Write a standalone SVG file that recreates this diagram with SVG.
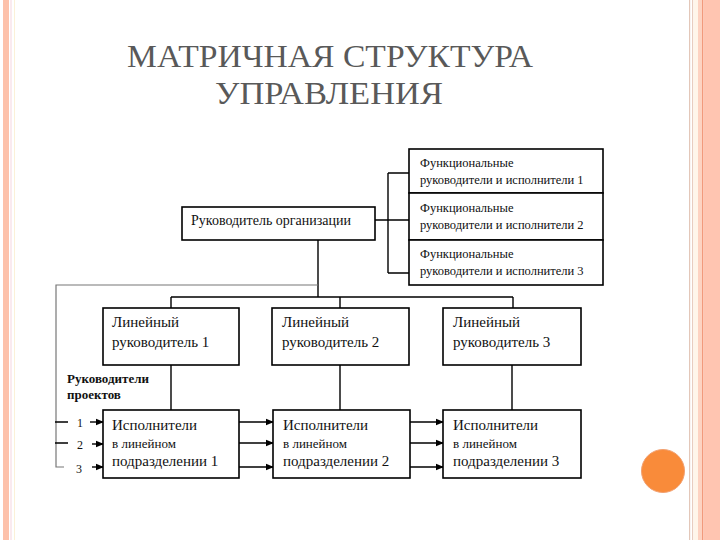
<svg xmlns="http://www.w3.org/2000/svg" width="720" height="540" viewBox="0 0 720 540">
<defs>
<style>
.box{fill:#fff;stroke:#000;stroke-width:1.6}
.ln{fill:none;stroke:#000;stroke-width:1.4}
.ar{fill:none;stroke:#000;stroke-width:1.4;marker-end:url(#ah)}
.gl{fill:none;stroke:#777;stroke-width:1.2}
text{font-family:"Liberation Serif","Times New Roman",serif}
.t{fill:#111}
.f{font-size:12.5px}
.m{font-size:15px}
.s{font-size:13px}
.title{font-size:31px;fill:#595959}
</style>
<marker id="ah" markerWidth="8" markerHeight="8" refX="7" refY="4" orient="auto" markerUnits="userSpaceOnUse">
<path d="M0,0.8 L8,4 L0,7.2 Z" fill="#000"/>
</marker>
</defs>
<rect width="720" height="540" fill="#fff"/>
<g id="frame">
<rect x="3" y="0" width="6" height="540" fill="#FDC1AA"/>
<rect x="10.5" y="0" width="1" height="540" fill="#F6D6E0"/>
<rect x="14" y="0" width="1" height="540" fill="#FBF1D8"/>
<rect x="689" y="0" width="1.2" height="540" fill="#E3C7B9"/>
<rect x="692" y="0" width="1.2" height="540" fill="#E8CDBF"/>
<rect x="693.5" y="0" width="4.5" height="540" fill="#FFF6EA"/>
<rect x="698" y="0" width="4" height="540" fill="#FDD3C2"/>
<rect x="702" y="0" width="1.5" height="540" fill="#F29A7C"/>
<rect x="703.5" y="0" width="16.5" height="540" fill="#FFC5B1"/>
</g>
<g id="title">
<text class="title" x="127" y="67" textLength="406" lengthAdjust="spacingAndGlyphs">МАТРИЧНАЯ СТРУКТУРА</text>
<text class="title" x="215" y="104" textLength="228" lengthAdjust="spacingAndGlyphs">УПРАВЛЕНИЯ</text>
</g>
<g id="connectors">
<path class="ln" d="M375,220 H409 M388,173 V273 M388,173 H409 M388,273 H409"/>
<path class="ln" d="M318,240 V297 M171,297 H513 M171,297 V308 M340,297 V308 M513,297 V308"/>
<path class="ln" d="M171,365 V410 M340,365 V410 M512,365 V410"/>
<path class="gl" d="M318,285 H56 V467 H64"/>
<path class="ln" d="M55,422 H68 M55,443 H68"/>
<line class="ar" x1="90" y1="422" x2="103" y2="422"/>
<line class="ar" x1="92" y1="444" x2="103" y2="444"/>
<line class="ar" x1="92" y1="467" x2="103" y2="467"/>
<line class="ar" x1="239" y1="422" x2="273" y2="422"/>
<line class="ar" x1="239" y1="443" x2="273" y2="443"/>
<line class="ar" x1="239" y1="467" x2="273" y2="467"/>
<line class="ar" x1="410" y1="422" x2="443" y2="422"/>
<line class="ar" x1="410" y1="443" x2="443" y2="443"/>
<line class="ar" x1="410" y1="467" x2="443" y2="467"/>
</g>
<g id="org">
<rect class="box" x="182" y="207" width="193" height="33"/>
<text class="t" x="191" y="225" font-size="14px">Руководитель организации</text>
</g>
<g id="func1">
<rect class="box" x="409" y="149" width="194" height="44"/>
<text class="t f" x="420" y="167">Функциональные</text>
<text class="t f" x="420" y="184">руководители и исполнители 1</text>
</g>
<g id="func2">
<rect class="box" x="409" y="193" width="194" height="47"/>
<text class="t f" x="420" y="212">Функциональные</text>
<text class="t f" x="420" y="229">руководители и исполнители 2</text>
</g>
<g id="func3">
<rect class="box" x="409" y="240" width="194" height="45"/>
<text class="t f" x="420" y="258">Функциональные</text>
<text class="t f" x="420" y="275">руководители и исполнители 3</text>
</g>
<g id="line1">
<rect class="box" x="103" y="308" width="136" height="57"/>
<text class="t m" x="112" y="327">Линейный</text>
<text class="t m" x="112" y="347">руководитель 1</text>
</g>
<g id="line2">
<rect class="box" x="272" y="308" width="137" height="57"/>
<text class="t m" x="282" y="327">Линейный</text>
<text class="t m" x="282" y="347">руководитель 2</text>
</g>
<g id="line3">
<rect class="box" x="443" y="308" width="138" height="57"/>
<text class="t m" x="453" y="327">Линейный</text>
<text class="t m" x="453" y="347">руководитель 3</text>
</g>
<g id="exec1">
<rect class="box" x="103" y="410" width="136" height="68"/>
<text class="t m" x="112" y="430">Исполнители</text>
<text class="t s" x="112" y="448">в линейном</text>
<text class="t m" x="112" y="466">подразделении 1</text>
</g>
<g id="exec2">
<rect class="box" x="273" y="410" width="137" height="68"/>
<text class="t m" x="283" y="430">Исполнители</text>
<text class="t s" x="283" y="448">в линейном</text>
<text class="t m" x="283" y="466">подразделении 2</text>
</g>
<g id="exec3">
<rect class="box" x="443" y="410" width="138" height="68"/>
<text class="t m" x="453" y="430">Исполнители</text>
<text class="t s" x="453" y="448">в линейном</text>
<text class="t m" x="453" y="466">подразделении 3</text>
</g>
<g id="projects">
<text class="t" x="67" y="383" font-size="13px" font-weight="bold">Руководители</text>
<text class="t" x="67" y="399" font-size="13px" font-weight="bold">проектов</text>
<text class="t" x="77" y="427" font-size="12px" fill="#333">1</text>
<text class="t" x="77" y="449" font-size="12px" fill="#333">2</text>
<text class="t" x="76" y="473" font-size="12px" fill="#333">3</text>
</g>
<circle id="dot" cx="663" cy="471" r="21.5" fill="#F98B3A" stroke="#F2A070" stroke-width="1"/>
</svg>
